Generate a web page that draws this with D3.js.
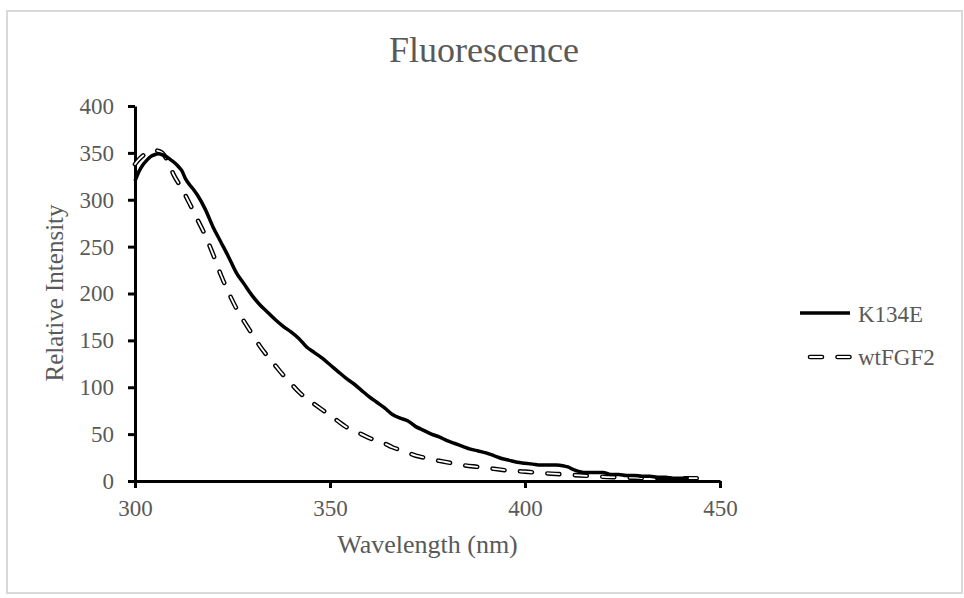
<!DOCTYPE html>
<html>
<head>
<meta charset="utf-8">
<script src="https://cdn.jsdelivr.net/npm/d3@7"></script>
<style>
  body { margin: 0; background: #fff; }
  text { font-family: "Liberation Serif", "Times New Roman", serif; fill: #595959; }
</style>
</head>
<body>
<div id="chart"></div>
<script>
// K134E spectrum (wavelength nm, relative intensity)
const k134eWl = [300, 301, 302, 303, 304, 305, 306, 307, 308, 309, 310, 311, 312, 313, 314, 315, 316, 318, 320, 322, 324, 326, 328, 330, 332, 334, 336, 338, 340, 342, 344, 346, 348, 350, 352, 354, 356, 358, 360, 362, 364, 366, 368, 370, 372, 374, 376, 378, 380, 382, 384, 386, 388, 390, 392, 394, 396, 398, 400, 402, 404, 406, 408, 410, 411, 412, 414, 416, 418, 420, 422, 424, 426, 428, 430, 432, 434, 436, 438, 440, 442];
const k134eVal = [320, 330, 337, 342, 346, 348, 349, 348, 346, 343, 340, 336, 331, 322, 316, 311, 305, 290, 271, 255, 239, 222, 210, 198, 188, 180, 172, 165, 159, 152, 143, 137, 131, 124, 117, 110, 104, 97, 90, 84, 78, 71, 67, 64, 58, 54, 50, 47, 43, 40, 37, 34, 32, 30, 27, 24, 22, 20, 19, 18, 17, 17, 17, 16, 15, 13, 10, 9, 9, 9, 7, 7, 6, 6, 5, 5, 4, 4, 3, 3, 3];

// wtFGF2 spectrum
const wtWl = [300, 301, 302, 303, 304, 305, 306, 307, 308, 309, 310, 312, 314, 316, 318, 320, 322, 324, 326, 328, 330, 332, 334, 336, 338, 340, 342, 344, 346, 348, 350, 352, 354, 356, 358, 360, 362, 364, 366, 368, 370, 372, 374, 376, 378, 380, 384, 388, 392, 396, 400, 404, 408, 412, 416, 420, 424, 428, 432, 436, 440, 444, 447];
const wtVal = [338, 343, 347, 350, 352, 353, 352, 350, 344, 335, 326, 312, 296, 279, 262, 242, 220, 201, 184, 170, 157, 144, 133, 123, 113, 104, 95, 88, 82, 76, 70, 64, 58, 54, 50, 46, 43, 40, 36, 33, 30, 27, 25, 23, 21.5, 20, 17, 15, 13, 11, 10, 8.5, 7.5, 6.5, 5.5, 4.5, 4, 3.5, 3, 3, 3, 3, 3];

const xTicks = [300, 350, 400, 450];
const yTicks = [0, 50, 100, 150, 200, 250, 300, 350, 400];

const width = 964, height = 598;
const margin = { top: 106, right: 244, bottom: 117, left: 135 };

const svg = d3.select("#chart")
  .append("svg")
  .attr("width", width)
  .attr("height", height);

svg.append("rect")
  .attr("x", 7).attr("y", 11)
  .attr("width", 955).attr("height", 582)
  .attr("fill", "#fff")
  .attr("stroke", "#d9d9d9")
  .attr("stroke-width", 2);

const x = d3.scaleLinear()
  .domain([300, 450])
  .range([margin.left, width - margin.right]);

const y = d3.scaleLinear()
  .domain([0, 400])
  .range([height - margin.bottom, margin.top]);

// axes
const xAxis = svg.append("g")
  .attr("transform", `translate(0,${y(0)})`)
  .call(d3.axisBottom(x).tickValues(xTicks).tickSize(7).tickPadding(12).tickSizeOuter(0));
xAxis.select(".domain").attr("stroke", "#000").attr("stroke-width", 3);
xAxis.selectAll(".tick line").attr("stroke", "#000").attr("stroke-width", 3);
xAxis.selectAll(".tick text").style("font-size", "23px").attr("fill", "#595959")
  .style("font-family", "Liberation Serif");

const yAxis = svg.append("g")
  .attr("transform", `translate(${x(300)},0)`)
  .call(d3.axisLeft(y).tickValues(yTicks).tickSize(7).tickPadding(14).tickSizeOuter(0));
yAxis.select(".domain").attr("stroke", "#000").attr("stroke-width", 3);
yAxis.selectAll(".tick line").attr("stroke", "#000").attr("stroke-width", 3);
yAxis.selectAll(".tick text").style("font-size", "23px").attr("fill", "#595959")
  .style("font-family", "Liberation Serif");

// series
const k134e = k134eWl.map((w, i) => ({ w, v: k134eVal[i] }));
const wt = wtWl.map((w, i) => ({ w, v: wtVal[i] }));

const line = d3.line()
  .x(d => x(d.w))
  .y(d => y(d.v))
  .curve(d3.curveMonotoneX);

const dash = "12 15.5";

// outlined dashes: thick black under a thin white stroke
svg.append("path")
  .datum(wt)
  .attr("fill", "none")
  .attr("stroke", "#000")
  .attr("stroke-width", 4.6)
  .attr("stroke-linecap", "round")
  .attr("stroke-dasharray", dash)
  .attr("d", line);
svg.append("path")
  .datum(wt)
  .attr("fill", "none")
  .attr("stroke", "#fff")
  .attr("stroke-width", 1.8)
  .attr("stroke-linecap", "round")
  .attr("stroke-dasharray", dash)
  .attr("d", line);

svg.append("path")
  .datum(k134e)
  .attr("fill", "none")
  .attr("stroke", "#000")
  .attr("stroke-width", 3.5)
  .attr("stroke-linejoin", "round")
  .attr("d", line);

// titles
svg.append("text")
  .attr("x", 484)
  .attr("y", 62)
  .attr("text-anchor", "middle")
  .style("font-size", "36px")
  .text("Fluorescence");

svg.append("text")
  .attr("x", (x(300) + x(450)) / 2)
  .attr("y", 553)
  .attr("text-anchor", "middle")
  .style("font-size", "26px")
  .text("Wavelength (nm)");

svg.append("text")
  .attr("transform", "translate(63,293) rotate(-90)")
  .attr("text-anchor", "middle")
  .style("font-size", "25px")
  .text("Relative Intensity");

// legend
const legend = svg.append("g");
legend.append("line")
  .attr("x1", 800).attr("x2", 850)
  .attr("y1", 313).attr("y2", 313)
  .attr("stroke", "#000").attr("stroke-width", 3.5);
legend.append("text")
  .attr("x", 858).attr("y", 322)
  .style("font-size", "23px")
  .text("K134E");

legend.append("line")
  .attr("x1", 810).attr("x2", 850)
  .attr("y1", 357).attr("y2", 357)
  .attr("stroke", "#000").attr("stroke-width", 4.6)
  .attr("stroke-linecap", "round")
  .attr("stroke-dasharray", dash);
legend.append("line")
  .attr("x1", 810).attr("x2", 850)
  .attr("y1", 357).attr("y2", 357)
  .attr("stroke", "#fff").attr("stroke-width", 1.8)
  .attr("stroke-linecap", "round")
  .attr("stroke-dasharray", dash);
legend.append("text")
  .attr("x", 858).attr("y", 365)
  .style("font-size", "23px")
  .text("wtFGF2");
</script>
</body>
</html>
